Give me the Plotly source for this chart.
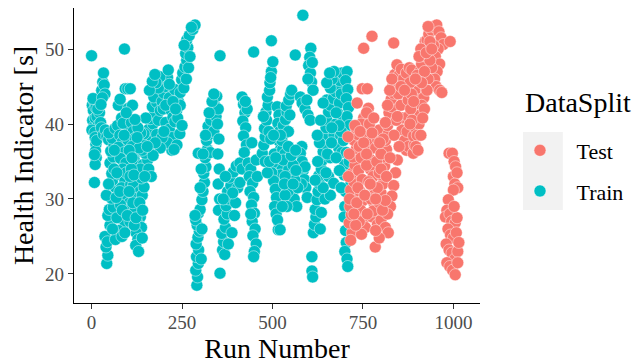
import plotly.graph_objects as go

# ---- data (Run Number, Health Indicator [s]) ----
train_run = [
    0, 2, 5, 8, 3, 6, 10, 12, 15, 18, 20, 22, 25, 1, 14, 9, 17, 4,
    10, 12, 11, 13, 10, 14, 8, 8, 28, 31, 33, 35, 37, 30, 26,
    27, 33, 38, 42, 47, 55,
    42, 45, 40, 37, 44, 51, 45, 49, 60, 55, 65, 58, 56, 51, 60, 53, 62, 57, 48, 65, 41, 47,
    72, 78, 85, 74, 90, 80, 95, 86, 100, 76, 92, 83, 98, 88, 103, 94, 87, 93, 80, 108, 100, 105, 83, 87,
    93, 100, 107, 74, 102, 91, 79,
    110, 115, 120, 112, 125, 118, 130, 122, 128, 116, 134, 124, 130, 120, 135, 126, 138, 123, 128, 122, 130, 140,
    140, 145, 138, 150, 143, 155, 148, 160, 152, 165, 158, 170, 162, 175, 168, 180, 172, 145, 150, 140, 135,
    185, 190, 195, 200, 205, 210, 189, 212, 198, 215, 220, 205, 225, 215, 222, 222, 210, 230, 180, 195, 190, 185, 178,
    230, 235, 240, 245, 249, 252, 258, 263, 260, 266, 263, 270, 280, 286, 276, 255, 262, 268, 245, 238, 244, 250, 236, 228, 272, 256,
    291, 293, 288, 295, 290, 296, 289, 294, 298, 292, 288, 295, 300, 286, 303, 305, 295,
    305, 308, 312, 310, 316, 314, 320, 318, 325, 322, 330, 335, 340, 346, 300, 303, 328, 338, 344, 355,
    350, 348, 352, 349, 353, 350, 354, 351,
    355, 362, 365, 360, 370, 366, 375, 372, 380, 376, 385, 382, 392, 400, 410, 416, 388, 395, 368, 404, 378, 398, 410, 390, 364, 370,
    416, 420, 424, 418, 426, 420, 428, 422, 430, 425, 448, 443,
    433, 440, 436, 445, 438, 448, 442, 450, 444, 452, 446, 455, 450, 448, 458, 455, 440,
    472, 476, 480, 478, 484, 482, 488, 486, 492, 493, 497, 501, 495, 490, 475, 497,
    513, 518, 515, 520, 517, 522, 519, 525, 522, 528, 524, 530, 516, 505, 500, 498, 503, 508, 511, 506, 510, 514,
    524, 528, 526, 532, 530, 536, 540, 538, 545, 550, 553, 534, 544, 548, 522, 584, 563,
    606, 603, 600, 605, 608, 612, 598, 610, 577, 582, 590, 598, 604, 595, 581,
    577, 582, 585, 588, 592, 596, 590, 580, 540, 545, 550, 548, 555, 560, 567, 562, 543, 521,
    613, 616, 620, 618, 623, 626, 630, 628, 635, 638, 640, 645, 643, 648, 650, 655, 650, 660, 668, 675,
    680, 685, 692, 670, 660, 655, 669, 645, 635, 632,
    609, 609, 611, 675, 680, 685, 690, 688, 695, 683, 692,
    706, 702, 708, 704, 710, 706, 712, 700, 696, 704, 700, 698, 702, 700, 698, 702, 704, 700, 706, 708, 712, 715,
    62, 68, 70, 75, 66, 58, 84, 96, 110, 106, 114, 118, 132, 136, 128, 120, 113, 96, 104, 90,
    160, 168, 175, 200, 205, 215, 225, 232, 176, 170, 158, 165,
    480, 486, 492, 535, 540, 530, 535, 557, 565, 570,
    660, 665, 670, 676, 690, 684, 664, 652, 660, 640, 648, 625, 630,
    315, 325, 333, 338, 308,
    63, 70, 78, 85, 92, 99, 106, 112, 117, 123, 133, 141, 147, 154, 126, 104,
    495, 503, 509, 527, 533, 552, 544, 557, 564,
    618, 624, 633, 640, 650, 658, 663, 676, 685, 690,
]
train_hi = [
    49.1, 42.5, 41.8, 43.0, 40.5, 39.6, 40.8, 42.2, 41.0, 39.8, 42.9, 41.5, 40.2, 39.2, 43.3, 38.9, 42.0, 43.4,
    38.2, 37.3, 36.4, 35.5, 34.6, 37.8, 35.9, 32.2, 44.5, 45.6, 46.8, 45.2, 44.0, 43.5, 42.6,
    39.5, 38.6, 39.2, 38.3, 37.9, 38.6,
    21.4, 22.5, 23.6, 25.0, 24.3, 26.5, 27.8, 28.6, 28.9, 30.1, 31.6, 32.5, 33.4, 34.8, 35.6, 36.4, 37.2, 38.1, 38.8, 39.4, 30.5, 32.0,
    39.8, 38.5, 37.6, 36.9, 36.2, 35.4, 34.8, 34.0, 33.1, 33.3, 32.4, 31.5, 30.8, 30.0, 29.4, 28.6, 27.2, 26.8, 29.2, 31.9, 37.9, 39.5, 40.8, 40.1,
    44.7, 44.7, 44.7, 42.5, 42.1, 50.0, 43.3,
    40.2, 39.0, 38.1, 37.0, 36.3, 35.2, 34.4, 33.5, 32.6, 31.8, 31.0, 30.1, 29.2, 28.4, 27.6, 26.8, 26.2, 25.5, 24.6, 23.8, 23.0, 24.8,
    30.5, 31.6, 32.8, 33.5, 34.6, 35.2, 36.1, 36.9, 37.8, 38.4, 39.3, 40.0, 40.7, 41.5, 42.3, 42.9, 43.6, 38.7, 40.8, 36.5, 34.0,
    40.5, 41.8, 43.0, 44.1, 45.0, 46.2, 46.3, 47.2, 42.0, 43.5, 41.8, 40.2, 40.9, 39.3, 38.2, 36.5, 37.5, 44.6, 38.6, 38.2, 36.8, 44.8, 45.5,
    40.3, 41.8, 43.0, 44.2, 45.9, 46.8, 47.6, 48.5, 49.4, 50.2, 51.2, 51.8, 52.6, 53.2, 52.9, 44.8, 46.0, 47.5, 42.5, 40.8, 38.7, 39.8, 37.2, 36.6, 49.0, 50.5,
    18.5, 19.6, 20.5, 21.4, 22.3, 23.2, 24.0, 24.9, 25.7, 26.5, 27.2, 28.1, 28.6, 27.8, 22.0, 26.0, 36.1,
    29.9, 31.0, 32.2, 33.4, 34.3, 35.5, 36.6, 37.8, 38.6, 39.7, 40.5, 41.6, 42.5, 43.7, 31.5, 34.0, 36.2, 39.0, 41.0, 49.1,
    42.0, 40.0, 38.0, 36.0, 34.0, 32.0, 30.0, 28.5,
    20.1, 23.2, 24.3, 25.4, 26.2, 27.3, 28.0, 29.1, 30.0, 31.0, 31.8, 32.9, 33.6, 34.4, 34.8, 34.0, 25.5, 27.8, 22.6, 31.5, 24.0, 29.5, 32.2, 30.8, 30.0, 33.0,
    43.6, 42.6, 41.5, 40.4, 39.5, 38.4, 37.2, 36.2, 42.0, 43.0, 49.6, 37.5,
    34.8, 34.0, 33.0, 32.1, 31.0, 30.2, 29.2, 28.1, 27.0, 26.0, 25.1, 24.0, 23.0, 22.3, 33.0, 35.2, 28.0,
    36.1, 37.2, 38.3, 39.4, 40.5, 41.6, 42.5, 43.6, 44.5, 45.5, 47.0, 48.3, 46.2, 39.0, 41.0, 51.1,
    42.3, 41.2, 40.1, 39.0, 37.8, 36.6, 35.5, 34.4, 33.2, 32.0, 31.0, 29.9, 25.9, 36.0, 34.8, 33.5, 32.4, 31.3, 30.2, 29.0, 28.0, 27.2,
    35.6, 36.6, 37.8, 38.7, 39.8, 40.6, 41.6, 42.4, 43.2, 44.0, 44.5, 36.0, 39.0, 41.2, 38.5, 54.5, 49.2,
    50.1, 48.9, 47.8, 46.8, 45.6, 44.5, 46.0, 48.2, 43.6, 42.8, 42.0, 41.2, 40.5, 43.2, 37.0,
    36.1, 35.0, 33.8, 32.6, 31.5, 30.2, 34.3, 32.0, 35.2, 34.0, 33.0, 31.8, 30.8, 30.0, 29.0, 32.5, 31.0, 25.9,
    25.5, 26.6, 27.6, 28.6, 29.9, 31.0, 32.0, 33.1, 34.0, 35.2, 36.3, 37.4, 38.6, 39.5, 40.6, 41.6, 43.2, 42.5, 43.4, 44.3,
    45.0, 45.8, 46.8, 38.5, 35.5, 33.0, 32.1, 30.0, 28.2, 26.0,
    22.3, 20.4, 19.6, 40.0, 41.5, 42.8, 44.0, 38.5, 40.8, 36.8, 36.2,
    47.0, 45.8, 44.6, 43.4, 42.2, 41.0, 39.8, 38.5, 37.8, 36.2, 34.6, 33.2, 31.0, 29.0, 27.6, 25.8, 24.2, 23.0, 22.0, 21.0, 35.0, 31.8,
    34.0, 30.2, 27.5, 25.8, 24.6, 26.0, 25.0, 33.5, 34.0, 27.0, 29.5, 26.5, 36.8, 38.8, 39.5, 40.6, 42.5, 41.5, 36.5, 38.5,
    44.5, 45.7, 46.6, 39.0, 42.5, 45.3, 43.0, 42.0, 37.5, 35.8, 34.0, 33.0,
    35.0, 33.5, 35.0, 30.5, 29.0, 35.2, 33.0, 34.5, 33.8, 31.5,
    44.8, 46.0, 47.0, 41.5, 39.0, 39.8, 39.5, 36.0, 30.5, 31.5, 33.5, 35.0, 37.5,
    38.5, 41.5, 43.0, 44.0, 36.0,
    36.5, 33.5, 31.0, 28.5, 25.5, 27.8, 33.0, 35.5, 33.2, 27.5, 29.5, 28.5, 33.0, 37.0, 38.2, 31.0,
    38.0, 38.5, 35.5, 29.0, 32.0, 35.8, 37.0, 32.0, 36.5,
    32.5, 38.5, 40.5, 42.8, 45.5, 46.8, 37.5, 35.5, 33.8, 31.5,
]

test_run = [
    775, 752, 835, 748, 762, 734, 765, 752,
    720, 716, 712, 718, 714, 722, 716, 725, 719, 728, 722, 732, 726, 735, 709, 712, 710, 713,
    740, 745, 738, 748, 742, 750, 744, 752, 757, 746, 740, 733, 736, 730, 725,
    784, 776, 790, 800, 812, 820, 795, 785,
    757, 762, 768, 765, 772, 770, 778, 775, 782, 780, 788, 785, 790, 795, 760, 766, 772, 778,
    795, 800, 805, 802, 810, 808, 815, 812, 820, 818, 825, 822, 830, 828, 835, 832, 840, 838, 844, 850, 856, 862,
    870, 878, 885, 848, 855, 860, 858, 865, 870, 875, 875, 872, 876, 850, 845, 840, 835, 830, 826, 818, 842, 836,
    889, 892, 890, 895, 893, 898, 896, 900, 905, 903, 908, 912, 915, 917, 922, 927, 932, 940, 945, 954, 960, 966, 972, 991,
    958, 950, 962, 955, 948, 952, 962, 968, 940, 935, 930, 925, 918, 912, 908, 905, 900, 896, 880, 884,
    882, 886, 927, 920, 915, 910, 902,
    988, 997, 1002, 1006, 1000, 1010, 1004, 1012, 1000, 986, 982, 978, 990, 995, 1005, 1010, 985, 992, 1000, 1008,
    980, 988, 996, 1004, 1012, 982, 990, 998, 1005, 1012, 1015, 1002,
    745, 752, 760, 768, 775, 780, 788, 795, 800, 806, 812, 818, 824, 830, 796,
    790, 804, 812, 730, 755, 762, 900, 910, 930, 945, 935, 920, 912, 890,
    728, 742, 760, 770, 785, 800, 815, 825, 845, 855, 865, 880, 895, 905, 925, 940,
]
test_hi = [
    51.7, 50.1, 50.8, 44.7, 44.7, 42.8, 42.1, 40.8,
    25.5, 24.5, 26.8, 27.9, 29.0, 30.1, 31.2, 32.3, 33.4, 34.5, 35.6, 36.7, 37.8, 38.6, 38.3, 36.0, 33.0, 30.0,
    37.0, 35.5, 33.8, 32.6, 31.0, 29.8, 28.5, 27.3, 26.2, 25.3, 27.0, 29.5, 31.5, 26.5, 28.0,
    23.6, 27.6, 26.6, 27.2, 26.2, 25.5, 24.8, 25.8,
    39.6, 38.4, 37.5, 36.3, 35.2, 34.0, 33.0, 31.8, 30.6, 29.5, 28.6, 36.8, 38.0, 39.2, 34.5, 32.3, 30.0, 28.4,
    29.5, 30.8, 32.0, 33.2, 34.4, 35.6, 36.6, 37.8, 38.7, 39.8, 40.6, 41.5, 42.3, 43.3, 44.1, 45.0, 45.8, 46.6, 47.9, 46.5, 47.3, 46.0,
    46.8, 47.5, 47.2, 44.0, 42.5, 40.8, 39.2, 37.8, 36.5, 43.2, 41.0, 39.0, 37.0, 37.0, 35.2, 33.5, 31.8, 30.4, 29.0, 28.0, 40.5, 38.5,
    36.1, 37.2, 38.4, 39.5, 40.6, 41.7, 42.8, 43.9, 44.8, 45.8, 47.0, 48.0, 49.1, 50.2, 51.0, 51.2, 52.0, 52.5, 53.0, 53.2, 52.3, 51.5, 50.6, 51.0,
    50.0, 49.0, 48.0, 47.0, 46.0, 45.0, 44.5, 44.2, 47.5, 48.5, 46.0, 44.5, 43.5, 42.5, 41.2, 40.0, 38.5, 37.0, 45.5, 44.0,
    42.0, 40.5, 44.5, 42.0, 40.8, 38.5, 36.5,
    36.1, 36.1, 35.0, 34.3, 33.0, 33.5, 32.0, 31.5, 31.2, 29.9, 28.5, 27.6, 28.0, 27.0, 26.8, 27.5, 26.0, 25.2, 24.8, 25.5,
    24.0, 23.2, 22.8, 22.0, 23.0, 21.5, 21.0, 20.5, 19.9, 21.5, 24.2, 29.0,
    40.0, 37.5, 41.5, 40.0, 38.8, 40.8, 35.0, 33.5, 36.0, 38.0, 40.2, 42.5, 44.5, 46.0, 37.5,
    31.5, 28.5, 29.8, 39.5, 30.5, 28.0, 46.5, 50.0, 53.0, 50.5, 51.0, 47.0, 45.5, 43.0,
    39.8, 39.0, 36.0, 32.0, 30.0, 34.0, 33.0, 35.5, 41.0, 45.0, 44.5, 40.0, 46.0, 49.0, 49.5, 50.0,
]

x_ticks = [0, 250, 500, 750, 1000]
y_ticks = [20, 30, 40, 50]

TEAL = "#00BFC4"
RED = "#F8766D"
SERIF = "Liberation Serif"
RING = "rgba(255,255,255,0.45)"
PAD = "\u00a0\u00a0\u00a0"  # spacing between legend key and label

fig = go.Figure()
fig.add_trace(go.Scatter(
    x=train_run, y=train_hi, mode="markers", name=PAD + "Train", legendgroup="train", legendrank=2,
    cliponaxis=False,
    marker=dict(color=TEAL, size=12, line=dict(color=RING, width=1)),
))
fig.add_trace(go.Scatter(
    x=test_run, y=test_hi, mode="markers", name=PAD + "Test", legendgroup="test", legendrank=1,
    cliponaxis=False,
    marker=dict(color=RED, size=12, line=dict(color=RING, width=1)),
))

axis_common = dict(
    showline=True, linecolor="black", linewidth=1.2, mirror=False,
    ticks="outside", ticklen=5, tickcolor="#333333", tickwidth=1,
    showgrid=False, zeroline=False, automargin=False,
    tickfont=dict(family=SERIF, size=19, color="#4D4D4D"),
)

# the page body adds an 8px offset, so the figure is 8px smaller than the window
fig.update_layout(
    width=632, height=356,
    margin=dict(l=66, r=160, t=0, b=61),
    plot_bgcolor="white", paper_bgcolor="white",
    font=dict(family=SERIF, color="black"),
    xaxis=dict(range=[-48.5, 1073.5], tickvals=x_ticks, ticklabelstandoff=-3, **axis_common,
               title=dict(text="Run Number", font=dict(family=SERIF, size=28, color="black"), standoff=11)),
    yaxis=dict(range=[16.13, 55.47], tickvals=y_ticks, **axis_common,
               title=dict(text="Health Indicator [s]", font=dict(family=SERIF, size=28, color="black"), standoff=5)),
    legend=dict(
        x=1.0985, xanchor="left", y=0.588, yanchor="top",
        font=dict(family=SERIF, size=22, color="black"),
        traceorder="grouped", tracegroupgap=9,
        bgcolor="rgba(0,0,0,0)",
    ),
    annotations=[dict(text="DataSplit", xref="paper", yref="paper", x=1.106, y=0.678,
                      xanchor="left", yanchor="middle", showarrow=False,
                      font=dict(family=SERIF, size=28, color="black"))],
    shapes=[dict(type="rect", xref="paper", yref="paper", x0=1.106, x1=1.204, y0=0.315, y1=0.580,
                 fillcolor="#F2F2F2", line=dict(width=0), layer="below")],
)

fig.write_html("out.html")
